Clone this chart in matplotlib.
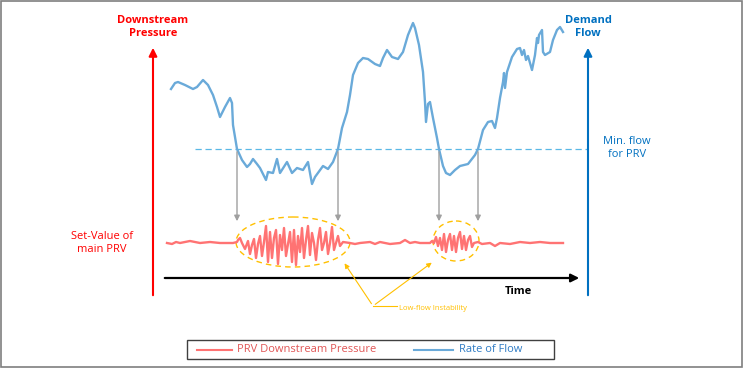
import matplotlib.pyplot as plt
from matplotlib.patches import Ellipse, Rectangle

# canvas units (pixels of a 743x368 sketch, y downwards)
flow_t = [171, 175, 178, 185, 193, 197, 203, 208, 213, 217, 220, 225, 230, 232, 233, 237,
          242, 247, 250, 253, 257, 260, 266, 268, 273, 277, 280, 287, 292, 297, 303, 308,
          312, 315, 323, 328, 333, 338, 342, 347, 350, 353, 358, 363, 368, 375, 380, 383,
          387, 392, 398, 403, 408, 413, 415, 419, 423, 425, 426, 428, 430, 433, 437, 439,
          443, 446, 450, 455, 460, 468, 475, 478, 483, 488, 492, 495, 497, 500, 503, 504,
          505, 507, 512, 517, 520, 522, 524, 526, 528, 530, 532, 535, 537, 538, 539, 542,
          543, 545, 550, 553, 557, 560, 563]
flow_y = [89, 83, 82, 85, 89, 87, 80, 85, 95, 107, 117, 107, 98, 103, 125, 149,
          160, 167, 164, 159, 164, 168, 180, 172, 173, 159, 173, 162, 173, 168, 170, 162,
          184, 177, 166, 169, 162, 149, 128, 112, 95, 75, 63, 58, 59, 64, 66, 58,
          50, 57, 59, 52, 35, 23, 28, 45, 72, 102, 122, 104, 102, 118, 138, 149,
          166, 173, 175, 170, 166, 164, 155, 149, 130, 122, 121, 128, 118, 98, 82, 73,
          88, 72, 57, 49, 48, 55, 50, 60, 56, 63, 70, 55, 38, 43, 35, 30,
          52, 55, 52, 40, 30, 27, 32]

press_t = [167, 172, 176, 180, 190, 200, 210, 220, 233, 237,
           238, 240, 242, 245, 248, 250, 252, 254, 256, 258, 260, 262, 264, 266, 268, 270,
           272, 274, 276, 278, 280, 282, 284, 286, 288, 290, 292, 294, 296, 298, 300, 302,
           304, 306, 308, 310, 312, 314, 316, 318, 320, 322, 324, 326, 328, 330, 332, 334,
           336, 338, 340, 343, 350,
           355, 360, 370, 375, 380, 385, 390, 400, 405, 410, 415, 420, 430,
           432, 434, 436, 438, 440, 442, 444, 446, 448, 450, 452, 454, 456, 458, 460, 462,
           464, 466, 468, 470, 472, 474, 478,
           482, 490, 495, 500, 510, 520, 530, 540, 550, 563]
press_y = [243, 244, 242, 243, 241, 243, 242, 243, 243, 242,
           240, 238, 243, 249, 241, 254, 245, 239, 258, 244, 236, 256, 242, 226, 262, 232,
           258, 238, 230, 264, 235, 250, 228, 256, 244, 232, 262, 230, 265, 236, 252, 228,
           258, 240, 226, 255, 233, 243, 260, 240, 228, 250, 243, 232, 254, 243, 227, 250,
           243, 236, 246, 242, 243,
           244, 243, 242, 244, 242, 243, 244, 243, 240, 243, 242, 243, 243,
           241, 243, 237, 246, 238, 250, 234, 252, 240, 234, 250, 236, 252, 238, 232, 249,
           236, 250, 240, 236, 247, 243, 242,
           244, 243, 246, 243, 244, 242, 243, 242, 243, 243]

min_flow = 149
crossings = [237, 338, 439, 478]

fig = plt.figure(figsize=(7.43, 3.68), dpi=100)
ax = fig.add_axes([0, 0, 1, 1])
ax.set_xlim(0, 743)
ax.set_ylim(368, 0)
ax.axis("off")

font = "Open Sans"
red = "#FF0000"
blue = "#0070C0"
flow_c = "#6AAAD9"
press_c = "#FF7373"
gold = "#FFC000"

# frame
ax.add_patch(Rectangle((1, 1), 741, 366, fill=False, ec="#7F7F7F", lw=1.2))

# axes arrows
ax.annotate("", xy=(153, 45), xytext=(153, 298),
            arrowprops=dict(arrowstyle="-|>", color=red, lw=1.5, mutation_scale=12))
ax.annotate("", xy=(588, 45), xytext=(588, 298),
            arrowprops=dict(arrowstyle="-|>", color=blue, lw=1.5, mutation_scale=12))
ax.annotate("", xy=(582, 278), xytext=(162, 278),
            arrowprops=dict(arrowstyle="-|>", color="black", lw=1.6, mutation_scale=12))

ax.text(153, 27, "Downstream\nPressure", color=red, fontsize=8, fontweight="bold",
        ha="center", va="center", family=font, linespacing=1.2)
ax.text(588, 27, "Demand\nFlow", color=blue, fontsize=8, fontweight="bold",
        ha="center", va="center", family=font, linespacing=1.2)
ax.text(518, 292, "Time", color="black", fontsize=8, fontweight="bold",
        ha="center", va="center", family=font)
ax.text(102, 243, "Set-Value of\nmain PRV", color=red, fontsize=8,
        ha="center", va="center", family=font, linespacing=1.2)
ax.text(627, 148, "Min. flow\nfor PRV", color=blue, fontsize=8,
        ha="center", va="center", family=font, linespacing=1.2)

# threshold and drop lines
ax.plot([195, 588], [min_flow, min_flow], color="#5BB8E6", lw=0.9, dashes=(5, 3))
for c in crossings:
    ax.annotate("", xy=(c, 224), xytext=(c, min_flow),
                arrowprops=dict(arrowstyle="-|>", color="#A0A0A0", lw=1, mutation_scale=8))

ax.plot(flow_t, flow_y, color=flow_c, lw=1.7, solid_joinstyle="round")
ax.plot(press_t, press_y, color=press_c, lw=1.7, solid_joinstyle="round")

# instability marks
ax.add_patch(Ellipse((293, 242), 114, 50, fill=False, ec=gold, lw=1, ls=(0, (4, 3))))
ax.add_patch(Ellipse((456, 241), 46, 40, fill=False, ec=gold, lw=1, ls=(0, (4, 3))))
for tip in [(343, 261), (434, 261)]:
    ax.annotate("", xy=tip, xytext=(373, 306),
                arrowprops=dict(arrowstyle="-|>", color=gold, lw=0.8, mutation_scale=7))
ax.plot([373, 397], [306, 306], color=gold, lw=0.8)
ax.text(399, 308, "Low-flow Instability", color=gold, fontsize=5.5,
        ha="left", va="center", family=font)

# legend
ax.add_patch(Rectangle((187, 340), 367, 19, fill=False, ec="#404040", lw=1))
ax.plot([197, 232], [350, 350], color=press_c, lw=1.5)
ax.text(237, 350, "PRV Downstream Pressure", color="#E05555", fontsize=8,
        ha="left", va="center", family=font)
ax.plot([414, 453], [350, 350], color=flow_c, lw=1.5)
ax.text(459, 350, "Rate of Flow", color="#2E7BC4", fontsize=8,
        ha="left", va="center", family=font)

fig.savefig("out.png", dpi=100)
